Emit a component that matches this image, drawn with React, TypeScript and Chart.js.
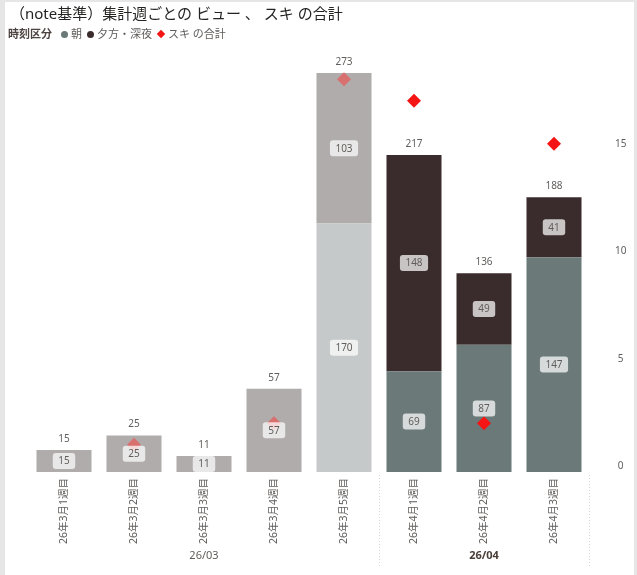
import { useEffect, useRef } from "react";
import { Chart, registerables, type Chart as ChartType, type Plugin } from "chart.js";

Chart.register(...registerables);

const FONT = '"Noto Sans", "Noto Sans CJK JP", sans-serif';
const TEXT = "#605e5c";

const weeks = [
  "26年3月1週目",
  "26年3月2週目",
  "26年3月3週目",
  "26年3月4週目",
  "26年3月5週目",
  "26年4月1週目",
  "26年4月2週目",
  "26年4月3週目",
];
const morning = [0, 0, 0, 0, 170, 69, 87, 147];
const evening = [15, 25, 11, 57, 103, 148, 49, 41];
const likes: (number | null)[] = [null, 1, null, 2, 18, 17, 2, 15];
const months = ["26/03", "26/04"];
const monthWeeks = [5, 3];
const selectedMonth = 1;
const likeTicks = [0, 5, 10, 15];

const inSelected = weeks.map((_, i) => i >= monthWeeks[0]);

const MORNING = "#6b7979";
const MORNING_DIM = "#c6c9c9";
const EVENING = "#3a2c2c";
const EVENING_DIM = "#b0acab";
const LIKE = "#f51515";
const LIKE_DIM = "#d7706f";

const labelPlugin: Plugin<"bar"> = {
  id: "pbiLabels",
  afterDatasetsDraw(chart) {
    const { ctx } = chart;
    ctx.save();
    ctx.font = `10px ${FONT}`;
    ctx.textAlign = "center";
    ctx.textBaseline = "middle";

    // in-segment labels
    [0, 1].forEach((di) => {
      const meta = chart.getDatasetMeta(di);
      const vals = chart.data.datasets[di].data as number[];
      meta.data.forEach((el, i) => {
        const v = vals[i];
        if (!v) return;
        const { x, y, base } = el.getProps(["x", "y", "base"], true) as any;
        const cy = (y + base) / 2;
        const txt = String(v);
        const w = ctx.measureText(txt).width + 11;
        const h = 16;
        ctx.fillStyle = "rgba(255,255,255,0.72)";
        ctx.beginPath();
        ctx.roundRect(x - w / 2, cy - h / 2, w, h, 3);
        ctx.fill();
        ctx.fillStyle = TEXT;
        ctx.fillText(txt, x, cy + 0.5);
      });
    });

    // totals above stacks
    const topMeta = chart.getDatasetMeta(1);
    topMeta.data.forEach((el, i) => {
      const total = morning[i] + evening[i];
      ctx.fillStyle = TEXT;
      ctx.fillText(String(total), el.x, (el as any).y - 11);
    });

    // month groups
    const xs = chart.scales.x;
    const step = xs.getPixelForValue(1) - xs.getPixelForValue(0);
    let start = 0;
    months.forEach((m, k) => {
      const end = start + monthWeeks[k] - 1;
      const left = xs.getPixelForValue(start) - step / 2;
      const right = xs.getPixelForValue(end) + step / 2;
      ctx.font = k === selectedMonth ? `bold 11px ${FONT}` : `11px ${FONT}`;
      ctx.fillStyle = k === selectedMonth ? "#4a3d38" : TEXT;
      ctx.fillText(m, (left + right) / 2, 556);
      ctx.strokeStyle = "#d6d6d6";
      ctx.lineWidth = 1;
      ctx.setLineDash([1, 2]);
      if (k > 0) {
        ctx.beginPath();
        ctx.moveTo(Math.round(left) + 0.5, 475);
        ctx.lineTo(Math.round(left) + 0.5, 568);
        ctx.stroke();
      }
      if (k === months.length - 1) {
        ctx.beginPath();
        ctx.moveTo(Math.round(right) + 0.5, 475);
        ctx.lineTo(Math.round(right) + 0.5, 568);
        ctx.stroke();
      }
      ctx.setLineDash([]);
      start = end + 1;
    });
    ctx.restore();
  },
};

function ComboChart() {
  const ref = useRef<HTMLCanvasElement>(null);
  const chartRef = useRef<ChartType | null>(null);

  useEffect(() => {
    if (!ref.current) return;
    const ctx = ref.current.getContext("2d");
    if (!ctx) return;

    chartRef.current = new Chart(ctx, {
      type: "bar",
      data: {
        labels: weeks,
        datasets: [
          {
            type: "bar",
            label: "朝",
            data: morning,
            backgroundColor: inSelected.map((s) => (s ? MORNING : MORNING_DIM)),
            categoryPercentage: 1,
            barPercentage: 0.786,
            order: 1,
            yAxisID: "y",
          },
          {
            type: "bar",
            label: "夕方・深夜",
            data: evening,
            backgroundColor: inSelected.map((s) => (s ? EVENING : EVENING_DIM)),
            categoryPercentage: 1,
            barPercentage: 0.786,
            order: 1,
            yAxisID: "y",
          },
          {
            type: "line",
            label: "スキ の合計",
            data: likes as any,
            showLine: false,
            pointStyle: "rectRot",
            pointRadius: 7,
            pointBorderWidth: 0,
            pointBackgroundColor: inSelected.map((s) => (s ? LIKE : LIKE_DIM)),
            order: 0,
            yAxisID: "y1",
          } as any,
        ],
      },
      options: {
        responsive: false,
        animation: false,
        layout: { padding: { left: 29, top: 58, right: 0, bottom: 0 } },
        plugins: {
          legend: { display: false },
          tooltip: { enabled: false },
        },
        scales: {
          x: {
            stacked: true,
            grid: { display: false, drawTicks: false },
            border: { display: false },
            ticks: {
              autoSkip: false,
              minRotation: 90,
              maxRotation: 90,
              padding: 6,
              color: TEXT,
              font: { family: FONT, size: 10.5 },
            },
            afterFit: (s) => {
              s.height = 103;
            },
          },
          y: {
            stacked: true,
            display: false,
            min: 0,
            max: 283.3,
          },
          y1: {
            position: "right",
            stacked: false,
            min: -0.265,
            max: 18.99,
            grid: { display: false, drawTicks: false },
            border: { display: false },
            ticks: {
              padding: 26,
              crossAlign: "center",
              color: TEXT,
              font: { family: FONT, size: 10 },
            },
            afterBuildTicks: (s) => {
              s.ticks = likeTicks.map((v) => ({ value: v }));
            },
            afterFit: (s) => {
              s.width = 48;
            },
          },
        },
      },
      plugins: [labelPlugin as any],
    });
    return () => {
      chartRef.current?.destroy();
    };
  }, []);

  return <canvas ref={ref} width={637} height={575} style={{ position: "absolute", left: 0, top: 0 }} />;
}

export default function App() {
  const dot = (color: string) => (
    <span style={{ width: 7, height: 7, borderRadius: "50%", background: color, display: "inline-block", marginRight: 3 }} />
  );
  return (
    <div style={{ position: "absolute", left: 0, top: 0, width: 637, height: 575, background: "#e6e6e6", fontFamily: FONT }}>
      <div style={{ position: "absolute", left: 5, top: 2, width: 629, height: 573, background: "#fff" }} />
      <ComboChart />
      <div style={{ position: "absolute", left: 10, top: 3, fontSize: 15, lineHeight: "20px", color: "#252423", whiteSpace: "nowrap" }}>
        （note基準）集計週ごとの ビュー 、 スキ の合計
      </div>
      <div
        style={{
          position: "absolute",
          left: 8,
          top: 26,
          fontSize: 11,
          lineHeight: "16px",
          color: TEXT,
          display: "flex",
          alignItems: "center",
          whiteSpace: "nowrap",
        }}
      >
        <span style={{ fontWeight: "bold", color: "#4d4441", marginRight: 9 }}>時刻区分</span>
        {dot(MORNING)}
        <span style={{ marginRight: 5 }}>朝</span>
        {dot(EVENING)}
        <span style={{ marginRight: 6 }}>夕方・深夜</span>
        <span style={{ width: 6, height: 6, background: LIKE, display: "inline-block", transform: "rotate(45deg)", marginRight: 4 }} />
        <span>スキ の合計</span>
      </div>
    </div>
  );
}
